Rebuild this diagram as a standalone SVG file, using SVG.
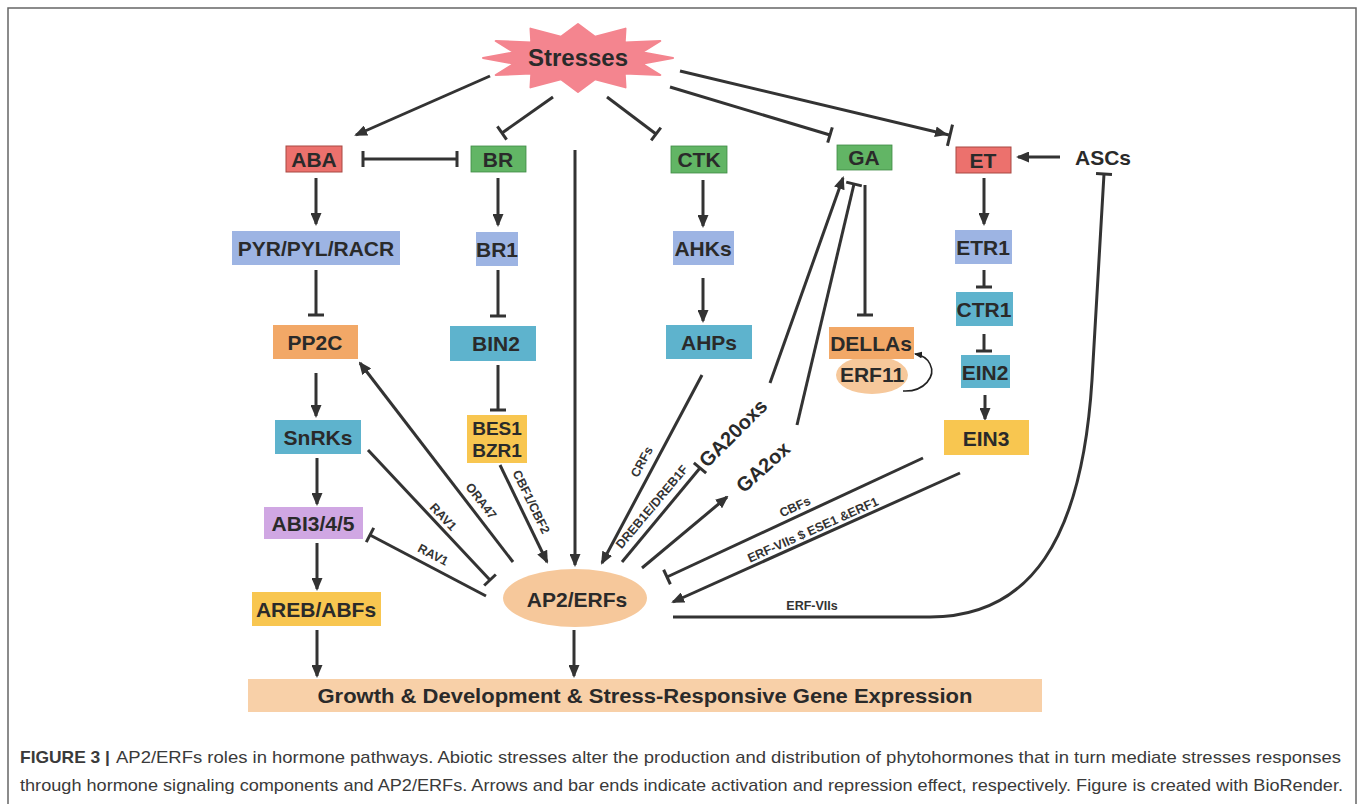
<svg xmlns="http://www.w3.org/2000/svg" width="1358" height="804" viewBox="0 0 1358 804">
<style>
.lbl{font-family:"Liberation Sans",Arial,sans-serif;font-weight:bold;font-size:21px;fill:#2a2a2a;text-anchor:middle;dominant-baseline:central}
.sm{font-family:"Liberation Sans",Arial,sans-serif;font-weight:bold;font-size:12.5px;fill:#333;text-anchor:middle;dominant-baseline:central}
.big{font-family:"Liberation Sans",Arial,sans-serif;font-weight:bold;font-size:20px;fill:#2a2a2a;text-anchor:middle;dominant-baseline:central}
.cap{font-family:"Liberation Sans",Arial,sans-serif;font-size:17px;fill:#3a3a3a}
.ln{fill:none;stroke:#333;stroke-width:3}
.act{marker-end:url(#arrow)}
.inh{marker-end:url(#bar)}
.red{fill:#ec716d;stroke:#a84843;stroke-width:1}
.green{fill:#62b565;stroke:#3f8b45;stroke-width:0.8}
.lblue{fill:#9db4e3}
.teal{fill:#5eb3cd}
.orange{fill:#f2a867}
.yellow{fill:#f8c650}
.lav{fill:#d0a7e3}
.peach{fill:#f6c89b}
</style>
<defs>
<marker id="arrow" viewBox="0 0 13 11" refX="11" refY="5.5" markerWidth="13" markerHeight="11" markerUnits="userSpaceOnUse" orient="auto">
<path d="M0,0 L13,5.5 L0,11 z" fill="#333"/>
</marker>
<marker id="bar" viewBox="-2 -9 4 18" refX="0" refY="0" markerWidth="4" markerHeight="18" markerUnits="userSpaceOnUse" orient="auto">
<path d="M0,-8 L0,8" stroke="#333" stroke-width="3"/>
</marker>
<marker id="arrowbar" viewBox="-14 -12 18 24" refX="0" refY="0" markerWidth="18" markerHeight="24" markerUnits="userSpaceOnUse" orient="auto">
<path d="M-14,-5.5 L-1,0 L-14,5.5 z" fill="#333"/>
<path d="M1,-11 L1,11" stroke="#333" stroke-width="3"/>
</marker>
<marker id="smallarrow" viewBox="0 0 8 7" refX="7" refY="3.5" markerWidth="8" markerHeight="7" markerUnits="userSpaceOnUse" orient="auto">
<path d="M0,0 L8,3.5 L0,7 z" fill="#222"/>
</marker>
</defs>
<rect width="1358" height="804" fill="#ffffff"/>
<rect x="8" y="8" width="1348" height="820" fill="none" stroke="#666" stroke-width="1.5"/>

<g id="connectors">
<path class="ln act" d="M490,76 L356,135"/>
<path class="ln inh" d="M553,97 L502,133"/>
<path class="ln inh" d="M607,97 L656,134"/>
<path class="ln inh" d="M670,87 L830,135"/>
<path class="ln" d="M680,71 L949,135" marker-end="url(#arrowbar)"/>
<path class="ln act" d="M575,150 L575,565"/>
<path class="ln inh" d="M363,159 L457,159" marker-start="url(#bar)"/>
<path class="ln act" d="M316,178 L316,224"/>
<path class="ln inh" d="M316,270 L316,315"/>
<path class="ln act" d="M316,373 L316,416"/>
<path class="ln act" d="M317,458 L317,504"/>
<path class="ln act" d="M317,543 L317,589"/>
<path class="ln act" d="M317,630 L317,676"/>
<path class="ln act" d="M574,630 L574,676"/>
<path class="ln act" d="M498,178 L498,225"/>
<path class="ln inh" d="M498,270 L498,316"/>
<path class="ln inh" d="M498,365 L498,410"/>
<path class="ln act" d="M703,180 L703,226"/>
<path class="ln act" d="M703,278 L703,321"/>
<path class="ln act" d="M984,178 L984,224"/>
<path class="ln inh" d="M984,270 L984,287"/>
<path class="ln inh" d="M984,334 L984,351"/>
<path class="ln act" d="M985,395 L985,419"/>
<path class="ln act" d="M1060,157 L1018,157"/>
<path class="ln inh" d="M865,185 L865,315"/>
<path class="ln act" d="M770,383 L843,178"/>
<path class="ln inh" d="M797,425 L854,184"/>
<path class="ln act" d="M642,568 L727,497"/>
<path class="ln inh" d="M622,562 L700,468"/>
<path class="ln act" d="M702,375 L602,563"/>
<path class="ln act" d="M500,465 L547,562"/>
<path class="ln act" d="M513,562 L360,363"/>
<path class="ln inh" d="M368,450 L490,580"/>
<path class="ln inh" d="M486,596 L370,535"/>
<path class="ln inh" d="M923,458 L667,577"/>
<path class="ln act" d="M960,473 L673,602"/>
<path class="ln inh" d="M673,617 L930,617 C1030,617 1082,540 1092,380 L1104,174"/>
<path fill="none" stroke="#222" stroke-width="1.6" d="M903,391 C925,392 936,376 930,364 C927,358 922,355 915,354" marker-end="url(#smallarrow)"/>
<text class="sm" transform="translate(481,501) rotate(52.4)">ORA47</text>
<text class="sm" transform="translate(531,502) rotate(64)">CBF1/CBF2</text>
<text class="sm" transform="translate(443,517) rotate(47)">RAV1</text>
<text class="sm" transform="translate(433,555) rotate(27.7)">RAV1</text>
<text class="sm" transform="translate(642,462) rotate(-62)">CRFs</text>
<text class="sm" transform="translate(652,507) rotate(-50)">DREB1E/DREB1F</text>
<text class="sm" transform="translate(795,507) rotate(-25)">CBFs</text>
<text class="sm" transform="translate(813,530) rotate(-24.2)">ERF-VIIs $ ESE1 &amp;ERF1</text>
<text class="sm" x="812" y="606">ERF-VIIs</text>
<text class="big" transform="translate(733,433) rotate(-45)">GA20oxs</text>
<text class="big" transform="translate(763,467) rotate(-42)">GA2ox</text>
</g>

<g id="stresses">
<polygon fill="#f4858f" stroke="#f4858f" stroke-width="2" stroke-linejoin="round" points="673,58 641.8,63.7 660.3,75 624.7,73.6 625.5,87.4 595.1,79.3 578,92 560.9,79.3 530.5,87.4 531.3,73.6 495.7,75 514.2,63.7 483,58 514.2,52.3 495.7,41 531.3,42.4 530.5,28.6 560.9,36.7 578,24 595.1,36.7 625.5,28.6 624.7,42.4 660.3,41 641.8,52.3"/>
<text class="lbl" x="578" y="57" style="font-size:24px">Stresses</text>
</g>

<g id="ABA"><rect class="red" x="286" y="146" width="56" height="26"/><text class="lbl" x="314" y="159">ABA</text></g>
<g id="BR"><rect class="green" x="471" y="146" width="55" height="26"/><text class="lbl" x="498" y="159">BR</text></g>
<g id="CTK"><rect class="green" x="671" y="146" width="56" height="27"/><text class="lbl" x="699" y="159">CTK</text></g>
<g id="GA"><rect class="green" x="837" y="145" width="55" height="25"/><text class="lbl" x="864" y="157">GA</text></g>
<g id="ET"><rect class="red" x="956" y="147" width="55" height="26"/><text class="lbl" x="983" y="160">ET</text></g>
<g id="ASCs"><text class="lbl" x="1103" y="157">ASCs</text></g>

<g id="PYR"><rect class="lblue" x="232" y="231" width="168" height="34"/><text class="lbl" x="316" y="248">PYR/PYL/RACR</text></g>
<g id="BR1"><rect class="lblue" x="476" y="232" width="42" height="34"/><text class="lbl" x="497" y="249">BR1</text></g>
<g id="AHKs"><rect class="lblue" x="673" y="231" width="61" height="34"/><text class="lbl" x="703" y="248">AHKs</text></g>
<g id="ETR1"><rect class="lblue" x="955" y="230" width="57" height="34"/><text class="lbl" x="983" y="247">ETR1</text></g>

<g id="PP2C"><rect class="orange" x="273" y="325" width="85" height="34"/><text class="lbl" x="315" y="342">PP2C</text></g>
<g id="BIN2"><rect class="teal" x="450" y="326" width="86" height="35"/><text class="lbl" x="496" y="343">BIN2</text></g>
<g id="AHPs"><rect class="teal" x="666" y="325" width="86" height="34"/><text class="lbl" x="709" y="342">AHPs</text></g>
<g id="CTR1"><rect class="teal" x="956" y="292" width="57" height="34"/><text class="lbl" x="984" y="309">CTR1</text></g>
<g id="ERF11"><ellipse class="peach" cx="872" cy="375" rx="36" ry="19"/><text class="lbl" x="872" y="374">ERF11</text></g>
<g id="DELLAs"><rect class="orange" x="829" y="327" width="85" height="32"/><text class="lbl" x="871" y="343">DELLAs</text></g>
<g id="EIN2"><rect class="teal" x="961" y="355" width="49" height="33"/><text class="lbl" x="985" y="372">EIN2</text></g>

<g id="SnRKs"><rect class="teal" x="275" y="420" width="86" height="34"/><text class="lbl" x="318" y="437">SnRKs</text></g>
<g id="BES1"><rect class="yellow" x="467" y="415" width="60" height="48"/><text class="lbl" x="497" y="428" style="font-size:19px">BES1</text><text class="lbl" x="497" y="450" style="font-size:19px">BZR1</text></g>
<g id="EIN3"><rect class="yellow" x="944" y="420" width="85" height="35"/><text class="lbl" x="986" y="438">EIN3</text></g>

<g id="ABI"><rect class="lav" x="264" y="507" width="99" height="32"/><text class="lbl" x="313" y="523">ABI3/4/5</text></g>
<g id="AREB"><rect class="yellow" x="252" y="592" width="129" height="34"/><text class="lbl" x="316" y="609">AREB/ABFs</text></g>
<g id="AP2ERFs"><ellipse class="peach" cx="575" cy="598" rx="72" ry="29"/><text class="lbl" x="577" y="599">AP2/ERFs</text></g>

<g id="output"><rect fill="#f8d0a8" x="248" y="679" width="794" height="33"/><text class="big" x="645" y="696" textLength="655" lengthAdjust="spacingAndGlyphs">Growth &amp; Development &amp; Stress-Responsive Gene Expression</text></g>

<g id="caption">
<text class="cap" x="20" y="763" font-weight="bold" fill="#222" textLength="90" lengthAdjust="spacingAndGlyphs">FIGURE 3 |</text>
<text class="cap" x="116" y="763" textLength="1225" lengthAdjust="spacingAndGlyphs">AP2/ERFs roles in hormone pathways. Abiotic stresses alter the production and distribution of phytohormones that in turn mediate stresses responses</text>
<text class="cap" x="20" y="791" textLength="1323" lengthAdjust="spacingAndGlyphs">through hormone signaling components and AP2/ERFs. Arrows and bar ends indicate activation and repression effect, respectively. Figure is created with BioRender.</text>
</g>
</svg>
